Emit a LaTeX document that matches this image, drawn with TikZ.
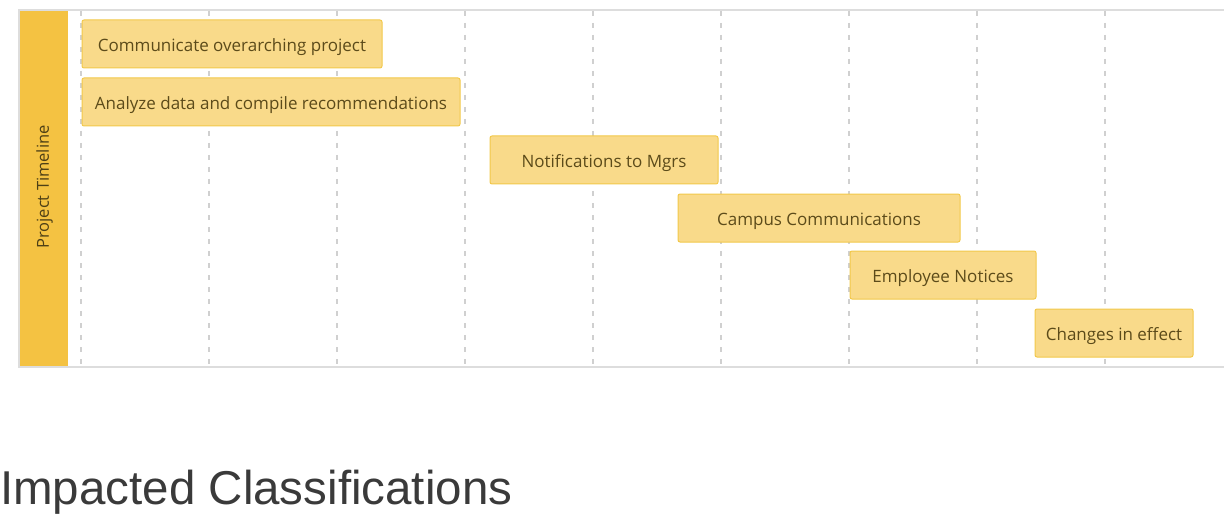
\documentclass[tikz,border=0pt]{standalone}
\usepackage{fontspec}
\setmainfont{Open Sans}
\newfontfamily\titlefont{Liberation Sans}
\definecolor{barfill}{HTML}{F9DA8A}
\definecolor{bardraw}{HTML}{F2C84B}
\definecolor{sidebar}{HTML}{F4C242}
\definecolor{bartext}{HTML}{5C4B1A}
\definecolor{framegray}{HTML}{DDDDDD}
\definecolor{gridgray}{HTML}{D0D0D0}
\definecolor{titlegray}{HTML}{3A3A3A}
\tikzset{
  taskbar/.style={draw=bardraw, line width=1pt, fill=barfill, rounded corners=2pt,
    minimum height=48pt, inner sep=0pt, text height=15pt, text depth=0pt,
    text=bartext, font=\fontsize{17}{19}\selectfont},
  gridline/.style={gridgray, line width=1.3pt, dash pattern=on 5pt off 7pt},
}
\begin{document}
\begin{tikzpicture}[x=1pt,y=-1pt]
\useasboundingbox (0,0) rectangle (1224,516);
% frame
\fill[sidebar] (19,10) rectangle (68,367);
\draw[framegray, line width=1.2pt] (1224,10) -- (19,10) -- (19,367) -- (1224,367);
% grid
\foreach \gx in {81,209,337,465,593,721,849,977,1105}{
  \draw[gridline] (\gx,11) -- (\gx,366);
}
\node[rotate=90, text=bartext!85!black, font=\fontsize{16.5}{18}\selectfont] (lbl) at (44.5,187) {Project Timeline};
% tasks
\node[taskbar, minimum width=300pt] (t1) at (232,44) {Communicate overarching project};
\node[taskbar, minimum width=378pt] (t2) at (271,102) {Analyze data and compile recommendations};
\node[taskbar, minimum width=228pt] (t3) at (604,160) {Notifications to Mgrs};
\node[taskbar, minimum width=282pt] (t4) at (819,218) {Campus Communications};
\node[taskbar, minimum width=186pt] (t5) at (943,275) {Employee Notices};
\node[taskbar, minimum width=158pt] (t6) at (1114,333) {Changes in effect};
% title
\node[anchor=base west, inner sep=0pt, text=titlegray, font=\titlefont\fontsize{47.5}{56}\selectfont] (title) at (0,504) {Impacted Classifications};
\end{tikzpicture}
\end{document}
